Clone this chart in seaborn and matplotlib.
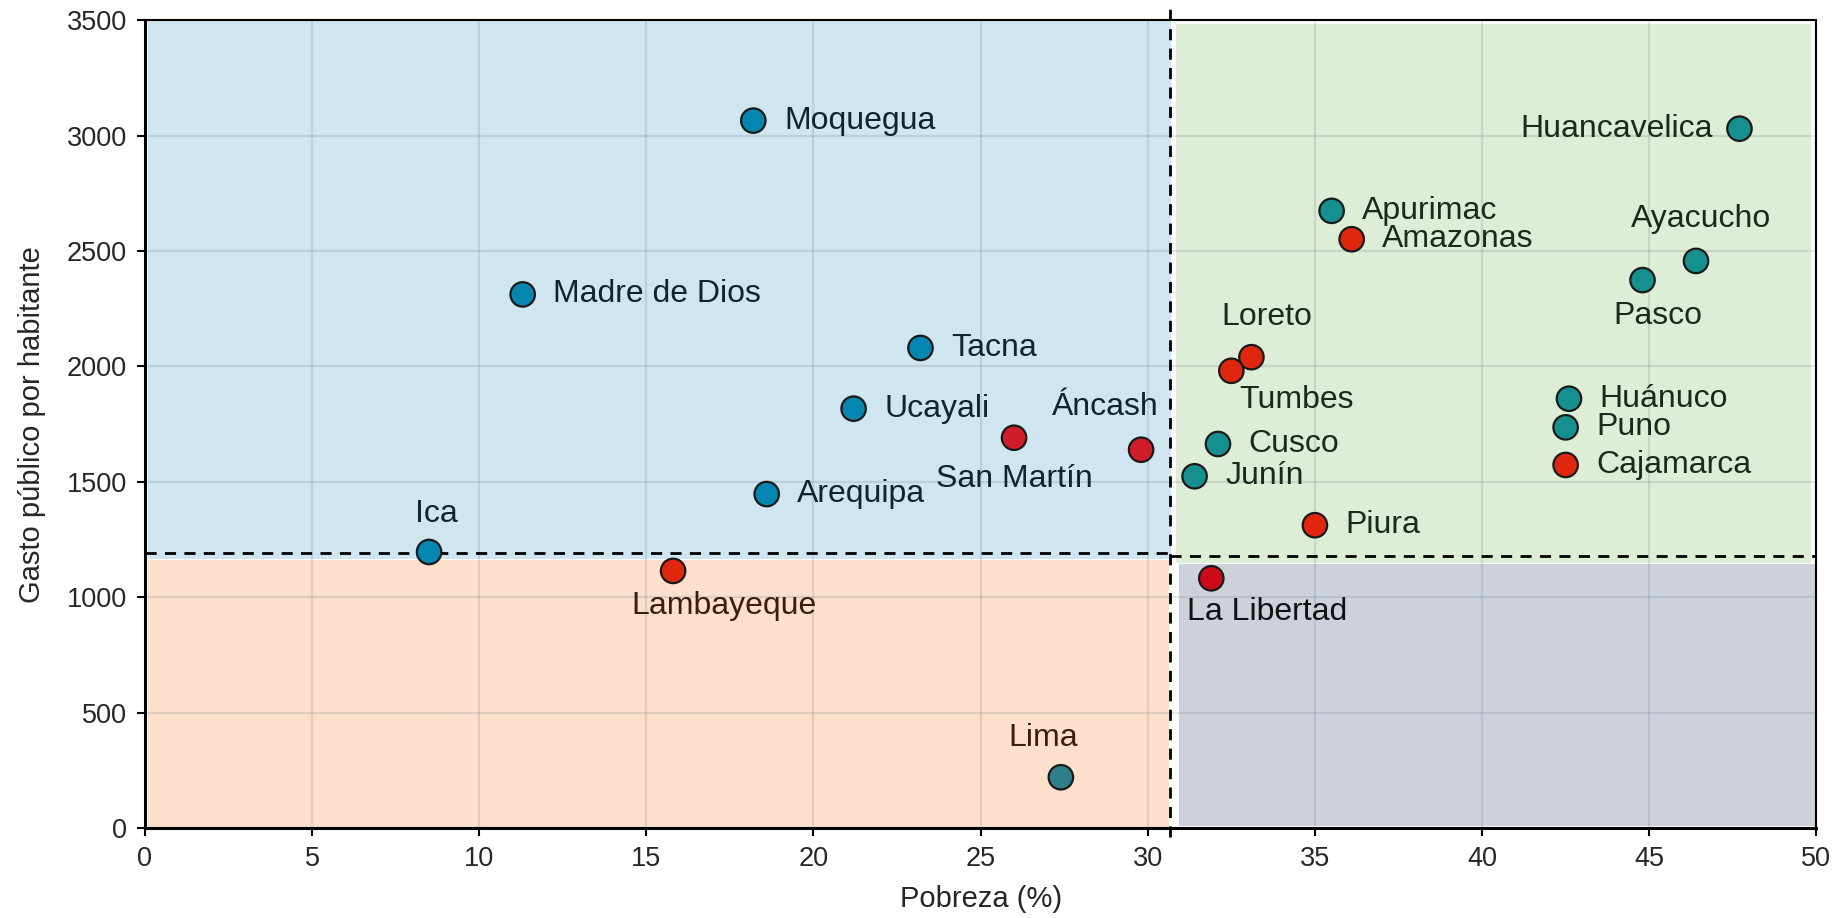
import matplotlib
matplotlib.use("Agg")
import matplotlib.pyplot as plt
import seaborn as sns
import pandas as pd

# data
regiones = ['Moquegua', 'Madre de Dios', 'Tacna', 'Ucayali', 'San Martín', 'Áncash',
            'Arequipa', 'Ica', 'Lambayeque', 'Lima', 'Huancavelica', 'Apurimac',
            'Amazonas', 'Ayacucho', 'Pasco', 'Loreto', 'Tumbes', 'Huánuco', 'Puno',
            'Cajamarca', 'Cusco', 'Junín', 'Piura', 'La Libertad']
pobreza = [18.2, 11.3, 23.2, 21.2, 26.0, 29.8,
           18.6, 8.5, 15.8, 27.4, 47.7, 35.5,
           36.1, 46.4, 44.8, 33.1, 32.5, 42.6, 42.5,
           42.5, 32.1, 31.4, 35.0, 31.9]
gasto = [3065, 2312, 2080, 1817, 1691, 1639,
         1447, 1196, 1114, 220, 3030, 2674,
         2551, 2457, 2374, 2040, 1981, 1860, 1736,
         1573, 1664, 1524, 1312, 1082]
grupo = ['azul', 'azul', 'azul', 'azul', 'granate', 'granate',
         'azul', 'azul', 'rojo', 'lima', 'verde', 'verde',
         'rojo', 'verde', 'verde', 'rojo', 'rojo', 'verde', 'verde',
         'rojo', 'verde', 'verde', 'rojo', 'vino']

umbral_pobreza = 30.65
umbral_gasto_izq = 1193
umbral_gasto_der = 1178

df = pd.DataFrame({'region': regiones, 'pobreza': pobreza, 'gasto': gasto, 'grupo': grupo})

colores = {'azul': '#0586b0', 'verde': '#15908f', 'rojo': '#e0260e',
           'granate': '#cf1d2a', 'vino': '#cc0a17', 'lima': '#2f7f8a'}

sns.set_style("white")
plt.rcParams['font.family'] = ['Liberation Sans', 'DejaVu Sans']

fig, ax = plt.subplots(figsize=(18.44, 9.18), dpi=100)
fig.subplots_adjust(left=0.0786, right=0.985, top=0.978, bottom=0.098)

# quadrant backgrounds
ax.fill_between([0.1, 30.68], 1165, 3500, color='#cfe5ef', lw=0, zorder=1)
ax.fill_between([0.1, 30.62], 0, 1162, color='#fde0cc', lw=0, zorder=1)
ax.fill_between([30.85, 49.85], 1150, 3485, color='#ddedd6', lw=0, zorder=1)
ax.fill_between([30.92, 49.95], 10, 1145, color='#cdd1da', lw=0, zorder=1)

sns.scatterplot(data=df, x='pobreza', y='gasto', hue='grupo', palette=colores,
                s=310, edgecolor='#1a1a1a', linewidth=1.6, legend=False, zorder=4, ax=ax)

# dashed threshold lines
ax.plot([umbral_pobreza, umbral_pobreza], [-40, 3570], color='black', ls=(0, (4, 3)),
        lw=2, clip_on=False, zorder=3)
ax.plot([0, umbral_pobreza], [umbral_gasto_izq, umbral_gasto_izq], color='black',
        ls=(0, (4, 3)), lw=2, zorder=3)
ax.plot([umbral_pobreza, 50], [umbral_gasto_der, umbral_gasto_der], color='black',
        ls=(0, (4, 3)), lw=2, zorder=3)

# label placement: (dx, dy) in points, ha
etiquetas = {
    'Ica': (5, 27, 'center'), 'Lambayeque': (37, -25, 'center'),
    'Lima': (-13, 28, 'center'), 'San Martín': (0, -30, 'center'),
    'Áncash': (-26, 31, 'center'), 'Ayacucho': (4, 30, 'center'),
    'Pasco': (11, -26, 'center'), 'Loreto': (11, 29, 'center'),
    'Tumbes': (47, -21, 'center'), 'La Libertad': (40, -24, 'center'),
    'Huancavelica': (-19, 0, 'right'),
}
color_texto = {'azul': '#0d2433', 'verde': '#1b2b1b', 'rojo': '#1b2b1b', 'granate': '#0d2433',
               'vino': '#111111', 'lima': '#3a1f10'}
for _, r in df.iterrows():
    dx, dy, ha = etiquetas.get(r['region'], (22, 0, 'left'))
    c = color_texto[r['grupo']]
    if r['region'] == 'Lambayeque':
        c = '#3a1f10'
    ax.annotate(r['region'], (r['pobreza'], r['gasto']), xytext=(dx, dy),
                textcoords='offset points', ha=ha, va='center', fontsize=23,
                color=c, zorder=5)

ax.set_xlim(0, 50)
ax.set_ylim(0, 3500)
ax.set_xticks(range(0, 51, 5))
ax.set_yticks(range(0, 3501, 500))
ax.set_axisbelow('line')
ax.grid(True, color='#6f8088', alpha=0.2, lw=1.6)
ax.tick_params(axis='both', labelsize=19.5, direction='out', length=6, width=1.5,
               color='black', bottom=True, left=True, pad=7)
for sp in ax.spines.values():
    sp.set_color('black')
    sp.set_linewidth(1.5)
ax.spines['left'].set_linewidth(2.2)
ax.spines['bottom'].set_linewidth(2.2)

ax.set_xlabel('Pobreza (%)', fontsize=21, labelpad=9)
ax.set_ylabel('Gasto público por habitante', fontsize=21, labelpad=15)

plt.savefig('out.png', dpi=100)
